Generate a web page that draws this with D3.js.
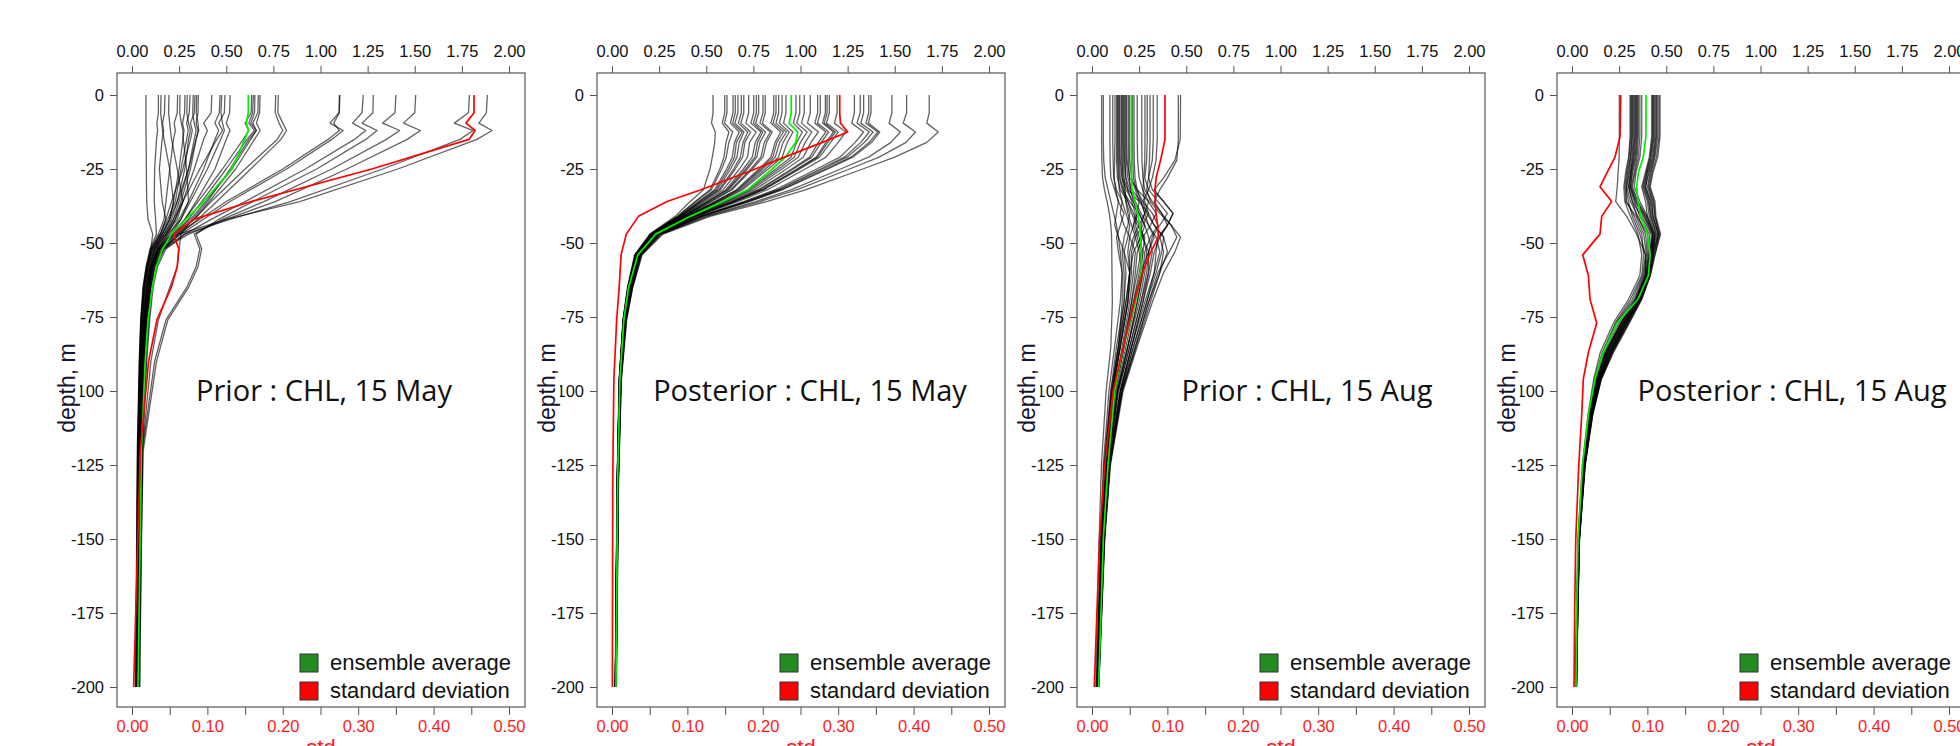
<!DOCTYPE html>
<html>
<head>
<meta charset="utf-8">
<script src="https://cdn.jsdelivr.net/npm/d3@7"></script>
<style>
  body { margin: 0; background: #fff; }
  svg { display: block; }
  text { font-family: "Liberation Sans", Arial, sans-serif; }
</style>
</head>
<body>
<div id="chart"></div>
<script>
// labels and ticks
const titles = ["Prior : CHL, 15 May", "Posterior : CHL, 15 May", "Prior : CHL, 15 Aug", "Posterior : CHL, 15 Aug"];
const meanTicks = [0, 0.25, 0.5, 0.75, 1, 1.25, 1.5, 1.75, 2];
const stdTicks = [0, 0.1, 0.2, 0.3, 0.4, 0.5];
const stdMinorTicks = [0.05, 0.15, 0.25, 0.35, 0.45];
const depthTicks = [0, -25, -50, -75, -100, -125, -150, -175, -200];
const legendLabels = ["ensemble average", "standard deviation"];

// panel 1 : prior, 15 May
const depth1 = [0, 6, 9.5, 12, 15, 25, 36, 42, 47, 52, 58, 65, 76, 90, 120, 200];
const members1 = [
  [0.074,0.074,0.074,0.074,0.075,0.076,0.078,0.085,0.11,0.1,0.08,0.062,0.048,0.04,0.03,0.02],
  [0.14,0.14,0.132,0.136,0.13,0.12,0.118,0.125,0.13,0.095,0.075,0.058,0.046,0.038,0.028,0.019],
  [0.154,0.152,0.158,0.162,0.17,0.2,0.22,0.2,0.16,0.12,0.1,0.085,0.07,0.058,0.042,0.03],
  [0.175,0.172,0.162,0.168,0.16,0.145,0.16,0.18,0.15,0.105,0.08,0.064,0.05,0.042,0.031,0.022],
  [0.196,0.194,0.2,0.204,0.21,0.24,0.27,0.24,0.18,0.13,0.105,0.09,0.075,0.062,0.045,0.033],
  [0.242,0.24,0.224,0.23,0.22,0.2,0.18,0.17,0.14,0.1,0.075,0.06,0.047,0.04,0.03,0.021],
  [0.255,0.253,0.262,0.27,0.272,0.29,0.3,0.26,0.19,0.14,0.11,0.095,0.08,0.066,0.048,0.035],
  [0.281,0.279,0.268,0.276,0.27,0.25,0.22,0.2,0.16,0.11,0.085,0.07,0.056,0.047,0.035,0.025],
  [0.293,0.291,0.3,0.31,0.3,0.28,0.24,0.21,0.17,0.12,0.09,0.075,0.06,0.05,0.037,0.027],
  [0.308,0.304,0.29,0.298,0.29,0.26,0.23,0.19,0.15,0.1,0.078,0.062,0.05,0.042,0.032,0.022],
  [0.325,0.322,0.33,0.34,0.33,0.3,0.25,0.22,0.18,0.125,0.095,0.08,0.065,0.054,0.04,0.029],
  [0.334,0.331,0.31,0.32,0.31,0.27,0.21,0.18,0.15,0.105,0.08,0.065,0.052,0.044,0.033,0.024],
  [0.343,0.341,0.35,0.354,0.34,0.31,0.26,0.23,0.19,0.135,0.1,0.085,0.07,0.058,0.043,0.031],
  [0.352,0.35,0.34,0.35,0.34,0.3,0.24,0.2,0.16,0.11,0.082,0.066,0.053,0.045,0.034,0.024],
  [0.423,0.42,0.38,0.4,0.38,0.33,0.27,0.23,0.18,0.12,0.09,0.074,0.06,0.05,0.037,0.027],
  [0.467,0.463,0.44,0.46,0.44,0.38,0.3,0.25,0.2,0.14,0.105,0.088,0.072,0.06,0.044,0.032],
  [0.476,0.472,0.48,0.49,0.47,0.4,0.31,0.26,0.21,0.15,0.115,0.098,0.082,0.068,0.05,0.036],
  [0.493,0.49,0.46,0.48,0.45,0.36,0.27,0.22,0.17,0.115,0.085,0.068,0.055,0.046,0.034,0.025],
  [0.52,0.518,0.5,0.52,0.5,0.44,0.34,0.28,0.22,0.15,0.11,0.092,0.076,0.063,0.046,0.033],
  [0.635,0.632,0.6,0.62,0.59,0.48,0.35,0.28,0.21,0.13,0.095,0.078,0.063,0.052,0.038,0.027],
  [0.644,0.64,0.62,0.65,0.61,0.5,0.37,0.3,0.22,0.14,0.1,0.082,0.066,0.055,0.04,0.029],
  [0.652,0.65,0.63,0.66,0.62,0.52,0.4,0.32,0.26,0.25,0.24,0.2,0.14,0.1,0.055,0.03],
  [0.67,0.668,0.64,0.66,0.63,0.53,0.39,0.31,0.22,0.145,0.105,0.086,0.07,0.058,0.042,0.03],
  [0.679,0.677,0.66,0.68,0.65,0.55,0.41,0.33,0.24,0.16,0.12,0.1,0.085,0.07,0.05,0.036],
  [0.762,0.76,0.78,0.8,0.77,0.6,0.42,0.33,0.23,0.14,0.1,0.082,0.066,0.055,0.04,0.029],
  [0.776,0.774,0.8,0.82,0.79,0.63,0.45,0.35,0.25,0.17,0.13,0.108,0.09,0.075,0.054,0.04],
  [1.1,1.098,1.05,1.12,1.06,0.82,0.52,0.38,0.26,0.15,0.11,0.09,0.074,0.061,0.045,0.032],
  [1.103,1.1,1.07,1.1,1.04,0.8,0.5,0.36,0.24,0.14,0.1,0.08,0.064,0.053,0.039,0.028],
  [1.227,1.22,1.17,1.24,1.18,0.92,0.6,0.42,0.28,0.18,0.135,0.112,0.094,0.078,0.056,0.041],
  [1.28,1.278,1.22,1.3,1.24,0.98,0.64,0.46,0.34,0.37,0.35,0.3,0.19,0.13,0.06,0.033],
  [1.4,1.395,1.33,1.42,1.35,1.06,0.7,0.48,0.33,0.36,0.34,0.29,0.18,0.12,0.055,0.032],
  [1.505,1.5,1.44,1.53,1.46,1.14,0.76,0.5,0.3,0.17,0.12,0.1,0.082,0.068,0.049,0.035],
  [1.79,1.785,1.71,1.81,1.74,1.33,0.84,0.52,0.28,0.16,0.11,0.09,0.072,0.06,0.044,0.032],
  [1.885,1.88,1.84,1.91,1.83,1.41,0.89,0.5,0.25,0.17,0.12,0.098,0.08,0.066,0.048,0.034]
];
const mean1 = [0.617,0.617,0.607,0.617,0.598,0.53,0.38,0.285,0.21,0.162,0.13,0.108,0.085,0.07,0.05,0.032];
const std1 = [0.4536,0.4536,0.443,0.455,0.447,0.318,0.158,0.082,0.055,0.062,0.06,0.052,0.033,0.022,0.011,0.0022];

// panel 2 : posterior, 15 May
const depth2 = [0, 6, 9.5, 12.5, 16, 21, 25, 32, 36, 41, 47, 54, 65, 76, 96, 130, 200];
const members2 = [
  [0.536,0.536,0.528,0.548,0.545,0.532,0.52,0.485,0.415,0.335,0.2,0.12,0.082,0.058,0.038,0.027,0.017],
  [0.598,0.598,0.585,0.62,0.605,0.594,0.572,0.52,0.441,0.347,0.205,0.123,0.084,0.059,0.039,0.028,0.017],
  [0.61,0.61,0.597,0.64,0.62,0.606,0.582,0.527,0.446,0.349,0.205,0.123,0.084,0.06,0.039,0.028,0.018],
  [0.642,0.642,0.628,0.675,0.65,0.638,0.608,0.544,0.459,0.355,0.208,0.124,0.085,0.06,0.039,0.028,0.018],
  [0.654,0.654,0.64,0.69,0.66,0.65,0.618,0.551,0.464,0.357,0.209,0.125,0.086,0.06,0.039,0.028,0.018],
  [0.668,0.668,0.652,0.7,0.675,0.663,0.629,0.559,0.47,0.36,0.209,0.125,0.086,0.061,0.04,0.028,0.018],
  [0.686,0.686,0.67,0.72,0.695,0.681,0.645,0.569,0.477,0.363,0.211,0.126,0.087,0.061,0.04,0.028,0.018],
  [0.699,0.699,0.684,0.735,0.705,0.693,0.654,0.575,0.482,0.366,0.212,0.127,0.087,0.061,0.04,0.028,0.018],
  [0.725,0.725,0.71,0.765,0.73,0.719,0.676,0.59,0.493,0.371,0.214,0.128,0.088,0.062,0.04,0.029,0.018],
  [0.752,0.752,0.737,0.79,0.76,0.744,0.697,0.604,0.504,0.376,0.215,0.129,0.089,0.062,0.041,0.029,0.018],
  [0.766,0.766,0.75,0.8,0.772,0.758,0.709,0.612,0.509,0.378,0.216,0.129,0.089,0.063,0.041,0.029,0.018],
  [0.778,0.778,0.762,0.815,0.785,0.768,0.718,0.618,0.514,0.38,0.217,0.13,0.089,0.063,0.041,0.029,0.018],
  [0.801,0.801,0.785,0.84,0.808,0.79,0.736,0.63,0.523,0.384,0.219,0.131,0.09,0.063,0.041,0.029,0.019],
  [0.813,0.813,0.798,0.85,0.82,0.801,0.745,0.637,0.528,0.386,0.219,0.131,0.09,0.064,0.041,0.029,0.019],
  [0.858,0.858,0.843,0.895,0.865,0.843,0.78,0.66,0.545,0.394,0.222,0.133,0.092,0.064,0.042,0.03,0.019],
  [0.87,0.87,0.855,0.91,0.875,0.853,0.789,0.666,0.549,0.396,0.223,0.133,0.092,0.065,0.042,0.03,0.019],
  [0.884,0.884,0.87,0.925,0.89,0.866,0.799,0.673,0.555,0.399,0.224,0.134,0.092,0.065,0.042,0.03,0.019],
  [0.902,0.902,0.888,0.94,0.908,0.883,0.814,0.683,0.562,0.402,0.225,0.134,0.093,0.065,0.042,0.03,0.019],
  [0.923,0.923,0.91,0.96,0.93,0.902,0.829,0.693,0.57,0.406,0.227,0.135,0.093,0.066,0.043,0.03,0.019],
  [0.976,0.976,0.962,1.01,0.98,0.949,0.869,0.72,0.59,0.415,0.23,0.137,0.095,0.067,0.043,0.03,0.02],
  [0.996,0.996,0.98,1.035,1.0,0.967,0.884,0.73,0.597,0.418,0.231,0.138,0.095,0.067,0.043,0.031,0.02],
  [1.02,1.02,1.005,1.06,1.025,0.988,0.901,0.742,0.606,0.422,0.233,0.139,0.096,0.067,0.044,0.031,0.02],
  [1.052,1.052,1.037,1.095,1.055,1.015,0.925,0.757,0.617,0.427,0.235,0.14,0.097,0.068,0.044,0.031,0.02],
  [1.091,1.091,1.076,1.135,1.095,1.049,0.953,0.776,0.631,0.434,0.237,0.141,0.098,0.069,0.044,0.031,0.02],
  [1.105,1.105,1.09,1.15,1.11,1.06,0.962,0.783,0.636,0.436,0.238,0.142,0.098,0.069,0.045,0.031,0.02],
  [1.132,1.132,1.117,1.175,1.135,1.084,0.982,0.796,0.646,0.44,0.24,0.143,0.099,0.069,0.045,0.032,0.02],
  [1.141,1.141,1.126,1.185,1.145,1.09,0.987,0.8,0.649,0.442,0.24,0.143,0.099,0.07,0.045,0.032,0.02],
  [1.153,1.153,1.138,1.2,1.16,1.101,0.996,0.805,0.653,0.444,0.241,0.144,0.1,0.07,0.045,0.032,0.021],
  [1.194,1.194,1.18,1.24,1.2,1.135,1.025,0.825,0.667,0.45,0.244,0.145,0.101,0.07,0.045,0.032,0.021],
  [1.286,1.286,1.272,1.335,1.29,1.209,1.086,0.866,0.698,0.464,0.249,0.148,0.103,0.072,0.046,0.033,0.021],
  [1.317,1.317,1.3,1.365,1.32,1.233,1.106,0.88,0.708,0.469,0.251,0.149,0.104,0.072,0.047,0.033,0.021],
  [1.335,1.335,1.32,1.385,1.34,1.247,1.119,0.888,0.714,0.472,0.252,0.15,0.104,0.073,0.047,0.033,0.021],
  [1.362,1.362,1.347,1.41,1.365,1.268,1.136,0.899,0.723,0.476,0.253,0.15,0.105,0.073,0.047,0.033,0.022],
  [1.374,1.374,1.36,1.42,1.378,1.277,1.144,0.905,0.727,0.477,0.254,0.151,0.105,0.073,0.047,0.033,0.022],
  [1.485,1.485,1.47,1.53,1.48,1.361,1.213,0.952,0.762,0.493,0.26,0.154,0.108,0.075,0.048,0.034,0.022],
  [1.563,1.563,1.545,1.61,1.56,1.417,1.26,0.983,0.785,0.504,0.264,0.157,0.109,0.076,0.049,0.034,0.022],
  [1.683,1.683,1.67,1.731,1.67,1.5,1.33,1.03,0.82,0.52,0.27,0.16,0.11,0.078,0.05,0.035,0.023]
];
const mean2 = [0.951,0.951,0.94,0.985,0.975,0.92,0.85,0.72,0.59,0.415,0.232,0.137,0.088,0.063,0.042,0.03,0.021];
const std2 = [0.302,0.302,0.303,0.3126,0.279,0.229,0.19,0.118,0.073,0.035,0.019,0.012,0.0095,0.0062,0.0025,0.001,0.0005];

// panel 3 : prior, 15 Aug
const depth3 = [0, 15, 22, 28, 32, 36, 40, 44, 48, 53, 60, 70, 85, 100, 125, 150, 200];
const members3 = [
  [0.051,0.051,0.052,0.056,0.066,0.08,0.092,0.1,0.104,0.105,0.106,0.108,0.1,0.075,0.05,0.038,0.02],
  [0.06,0.06,0.062,0.07,0.085,0.1,0.115,0.13,0.14,0.15,0.16,0.15,0.12,0.09,0.06,0.045,0.025],
  [0.095,0.095,0.096,0.1,0.12,0.14,0.13,0.12,0.14,0.17,0.2,0.19,0.15,0.11,0.07,0.05,0.028],
  [0.11,0.11,0.112,0.115,0.13,0.16,0.18,0.2,0.19,0.17,0.18,0.17,0.13,0.1,0.065,0.048,0.026],
  [0.122,0.122,0.12,0.118,0.125,0.14,0.17,0.15,0.13,0.14,0.16,0.16,0.14,0.105,0.07,0.05,0.027],
  [0.131,0.131,0.13,0.135,0.15,0.19,0.22,0.25,0.22,0.2,0.2,0.18,0.145,0.11,0.072,0.052,0.028],
  [0.135,0.135,0.136,0.14,0.145,0.16,0.15,0.17,0.2,0.23,0.22,0.2,0.16,0.12,0.078,0.055,0.03],
  [0.14,0.14,0.14,0.145,0.16,0.2,0.25,0.28,0.26,0.22,0.2,0.18,0.14,0.105,0.068,0.05,0.027],
  [0.145,0.145,0.146,0.15,0.165,0.18,0.2,0.19,0.17,0.16,0.17,0.17,0.14,0.1,0.065,0.048,0.026],
  [0.149,0.149,0.15,0.16,0.18,0.22,0.24,0.22,0.24,0.26,0.24,0.21,0.17,0.125,0.08,0.056,0.03],
  [0.157,0.157,0.158,0.16,0.17,0.19,0.21,0.24,0.28,0.27,0.25,0.22,0.17,0.12,0.076,0.054,0.029],
  [0.16,0.16,0.16,0.165,0.19,0.25,0.3,0.27,0.23,0.21,0.21,0.19,0.15,0.11,0.07,0.05,0.027],
  [0.166,0.166,0.168,0.17,0.175,0.18,0.19,0.21,0.23,0.25,0.27,0.24,0.19,0.135,0.085,0.06,0.032],
  [0.17,0.17,0.172,0.18,0.2,0.23,0.26,0.3,0.33,0.3,0.26,0.22,0.17,0.12,0.075,0.054,0.029],
  [0.175,0.175,0.176,0.178,0.19,0.21,0.23,0.22,0.2,0.19,0.2,0.19,0.15,0.11,0.07,0.05,0.027],
  [0.18,0.18,0.182,0.19,0.21,0.26,0.28,0.26,0.27,0.29,0.28,0.25,0.19,0.135,0.085,0.06,0.032],
  [0.184,0.184,0.186,0.2,0.24,0.3,0.34,0.31,0.27,0.24,0.23,0.21,0.165,0.12,0.075,0.053,0.028],
  [0.193,0.193,0.194,0.198,0.205,0.22,0.25,0.28,0.3,0.32,0.3,0.26,0.2,0.14,0.088,0.062,0.033],
  [0.2,0.2,0.2,0.21,0.23,0.25,0.24,0.23,0.25,0.27,0.26,0.23,0.18,0.13,0.08,0.057,0.03],
  [0.215,0.215,0.216,0.22,0.235,0.27,0.32,0.35,0.31,0.28,0.27,0.24,0.19,0.135,0.085,0.06,0.032],
  [0.223,0.223,0.224,0.228,0.24,0.26,0.28,0.3,0.34,0.36,0.33,0.28,0.21,0.15,0.092,0.064,0.034],
  [0.24,0.24,0.242,0.25,0.27,0.3,0.28,0.25,0.27,0.3,0.29,0.26,0.2,0.14,0.088,0.062,0.033],
  [0.264,0.264,0.265,0.27,0.28,0.32,0.37,0.4,0.36,0.33,0.31,0.27,0.21,0.15,0.09,0.063,0.033],
  [0.281,0.281,0.28,0.275,0.27,0.28,0.3,0.33,0.38,0.4,0.36,0.3,0.23,0.16,0.095,0.066,0.035],
  [0.293,0.293,0.29,0.28,0.3,0.35,0.4,0.36,0.32,0.3,0.3,0.27,0.21,0.15,0.09,0.063,0.034],
  [0.308,0.308,0.305,0.3,0.32,0.38,0.43,0.4,0.35,0.34,0.33,0.29,0.22,0.155,0.092,0.064,0.034],
  [0.325,0.325,0.32,0.3,0.29,0.31,0.36,0.42,0.45,0.41,0.35,0.3,0.23,0.16,0.095,0.066,0.035],
  [0.346,0.346,0.34,0.32,0.3,0.27,0.29,0.33,0.38,0.37,0.34,0.29,0.22,0.155,0.092,0.064,0.034],
  [0.458,0.458,0.45,0.4,0.36,0.33,0.37,0.42,0.47,0.44,0.38,0.32,0.24,0.165,0.098,0.068,0.036],
  [0.47,0.468,0.44,0.38,0.33,0.38,0.43,0.4,0.36,0.38,0.36,0.31,0.235,0.16,0.095,0.066,0.035]
];
const mean3 = [0.21,0.21,0.21,0.21,0.212,0.228,0.242,0.253,0.258,0.262,0.262,0.23,0.166,0.12,0.085,0.06,0.035];
const std3 = [0.0968,0.0968,0.091,0.085,0.0836,0.084,0.0849,0.087,0.088,0.078,0.067,0.056,0.0415,0.028,0.017,0.01,0.003];

// panel 4 : posterior, 15 Aug
const depth4 = [0, 14, 21, 26, 31, 36, 41, 47, 54, 61, 69, 77, 87, 96, 108, 125, 150, 175, 200];
const members4 = [
  [0.251,0.251,0.25,0.245,0.24,0.232,0.29,0.343,0.39,0.39,0.34,0.26,0.18,0.13,0.094,0.06,0.035,0.027,0.021],
  [0.308,0.308,0.3,0.285,0.275,0.28,0.31,0.35,0.37,0.36,0.3,0.22,0.15,0.115,0.085,0.055,0.032,0.024,0.018],
  [0.312,0.312,0.304,0.29,0.28,0.29,0.33,0.37,0.38,0.37,0.31,0.23,0.16,0.12,0.088,0.057,0.033,0.025,0.019],
  [0.317,0.317,0.31,0.295,0.285,0.3,0.32,0.36,0.39,0.375,0.32,0.235,0.165,0.122,0.09,0.058,0.034,0.026,0.02],
  [0.32,0.32,0.312,0.3,0.29,0.285,0.34,0.38,0.395,0.38,0.33,0.24,0.17,0.125,0.09,0.058,0.034,0.026,0.02],
  [0.325,0.325,0.318,0.305,0.29,0.31,0.35,0.39,0.4,0.385,0.335,0.25,0.175,0.13,0.093,0.06,0.035,0.027,0.021],
  [0.33,0.33,0.322,0.31,0.3,0.32,0.345,0.4,0.405,0.39,0.34,0.26,0.18,0.133,0.095,0.06,0.035,0.027,0.021],
  [0.334,0.334,0.326,0.312,0.305,0.33,0.36,0.41,0.41,0.395,0.345,0.265,0.185,0.136,0.097,0.062,0.036,0.028,0.022],
  [0.338,0.338,0.33,0.315,0.3,0.32,0.37,0.42,0.415,0.4,0.35,0.27,0.19,0.14,0.1,0.064,0.037,0.028,0.022],
  [0.343,0.343,0.335,0.318,0.31,0.335,0.38,0.425,0.42,0.4,0.35,0.275,0.195,0.143,0.102,0.065,0.037,0.029,0.022],
  [0.347,0.347,0.34,0.322,0.31,0.34,0.385,0.43,0.42,0.405,0.355,0.28,0.2,0.146,0.104,0.066,0.038,0.029,0.023],
  [0.352,0.352,0.345,0.33,0.315,0.345,0.39,0.43,0.425,0.41,0.36,0.285,0.205,0.15,0.106,0.067,0.038,0.03,0.023],
  [0.36,0.36,0.352,0.335,0.32,0.35,0.395,0.435,0.425,0.41,0.36,0.29,0.21,0.152,0.108,0.068,0.039,0.03,0.023],
  [0.37,0.37,0.36,0.34,0.33,0.36,0.4,0.44,0.43,0.415,0.365,0.3,0.215,0.155,0.11,0.07,0.04,0.031,0.024],
  [0.423,0.423,0.41,0.39,0.37,0.39,0.4,0.43,0.41,0.39,0.34,0.26,0.18,0.13,0.094,0.06,0.035,0.027,0.021],
  [0.427,0.427,0.414,0.394,0.375,0.4,0.41,0.44,0.415,0.395,0.345,0.27,0.185,0.135,0.096,0.062,0.036,0.028,0.022],
  [0.431,0.431,0.418,0.398,0.38,0.405,0.42,0.445,0.42,0.4,0.35,0.275,0.19,0.138,0.098,0.063,0.036,0.028,0.022],
  [0.435,0.435,0.422,0.4,0.385,0.41,0.415,0.45,0.42,0.4,0.35,0.28,0.195,0.14,0.1,0.064,0.037,0.028,0.022],
  [0.44,0.44,0.428,0.405,0.39,0.415,0.425,0.455,0.425,0.405,0.355,0.285,0.2,0.143,0.102,0.065,0.037,0.029,0.022],
  [0.445,0.445,0.432,0.41,0.39,0.42,0.43,0.46,0.43,0.405,0.36,0.29,0.205,0.146,0.104,0.066,0.038,0.029,0.023],
  [0.449,0.449,0.436,0.415,0.4,0.425,0.43,0.458,0.43,0.41,0.36,0.29,0.205,0.148,0.105,0.067,0.038,0.029,0.023],
  [0.455,0.455,0.44,0.42,0.405,0.43,0.44,0.462,0.435,0.41,0.365,0.295,0.21,0.15,0.106,0.068,0.039,0.03,0.023],
  [0.462,0.462,0.448,0.425,0.41,0.435,0.44,0.466,0.44,0.415,0.37,0.3,0.215,0.153,0.108,0.069,0.039,0.03,0.024],
  [0.467,0.467,0.455,0.43,0.415,0.44,0.445,0.47,0.44,0.415,0.37,0.305,0.22,0.156,0.11,0.07,0.04,0.031,0.024]
];
const mean4 = [0.393,0.392,0.378,0.353,0.343,0.35,0.365,0.4,0.415,0.405,0.35,0.24,0.165,0.122,0.087,0.056,0.032,0.025,0.021];
const std4 = [0.0646,0.0637,0.057,0.047,0.0371,0.0526,0.0394,0.0371,0.0142,0.0217,0.0239,0.0328,0.0217,0.015,0.0129,0.009,0.005,0.0035,0.0027];

const panels = [
  { depth: depth1, members: members1, mean: mean1, std: std1 },
  { depth: depth2, members: members2, mean: mean2, std: std2 },
  { depth: depth3, members: members3, mean: mean3, std: std3 },
  { depth: depth4, members: members4, mean: mean4, std: std4 }
];

// layout
const W = 1960, H = 746;
const panelStep = 480;
const titleShift = [3, 9, 26, 31];

const svg = d3.select("#chart").append("svg")
  .attr("width", W)
  .attr("height", H);

panels.forEach((p, i) => {
  const ox = i * panelStep;
  const left = 117 + ox, right = 525 + ox, top = 73, bottom = 707;

  const x = d3.scaleLinear().domain([0, 2]).range([132 + ox, 509 + ox]);
  const xs = d3.scaleLinear().domain([0, 0.5]).range([132 + ox, 509 + ox]);
  const y = d3.scaleLinear().domain([0, -200]).range([95, 687]);

  const g = svg.append("g");

  // top axis (ensemble values)
  g.append("g")
    .attr("transform", "translate(0," + top + ")")
    .call(d3.axisTop(x).tickValues(meanTicks).tickSize(7).tickPadding(9)
      .tickFormat(d3.format(".2f")))
    .call(a => a.select(".domain").remove());

  // bottom axis (std)
  g.append("g")
    .attr("class", "std-axis")
    .attr("transform", "translate(0," + bottom + ")")
    .call(d3.axisBottom(xs).tickValues(stdTicks.concat(stdMinorTicks)).tickSize(8).tickPadding(5)
      .tickFormat(d => stdTicks.includes(d) ? d3.format(".2f")(d) : ""))
    .call(a => a.select(".domain").remove());

  // depth axis
  g.append("g")
    .attr("transform", "translate(" + left + ",0)")
    .call(d3.axisLeft(y).tickValues(depthTicks).tickSize(7).tickPadding(6)
      .tickFormat(d => String(d)))
    .call(a => a.select(".domain").remove());

  g.selectAll(".tick line").attr("stroke", "#555").attr("stroke-width", 1);
  g.selectAll(".tick text")
    .style("font-family", '"Liberation Sans", Arial, sans-serif')
    .style("font-size", "16.5px")
    .attr("fill", "#111");
  g.selectAll(".std-axis .tick text").attr("fill", "#ff1a1a");

  // frame
  g.append("rect")
    .attr("x", left).attr("y", top)
    .attr("width", right - left).attr("height", bottom - top)
    .attr("fill", "none")
    .attr("stroke", "#555")
    .attr("stroke-width", 1.2);

  const plot = g.append("g");

  const meanLine = d3.line()
    .x(d => x(d[0]))
    .y(d => y(-d[1]));
  const stdLine = d3.line()
    .x(d => xs(d[0]))
    .y(d => y(-d[1]));

  plot.selectAll("path.member")
    .data(p.members)
    .enter()
    .append("path")
    .attr("class", "member")
    .attr("d", m => meanLine(m.map((v, k) => [v, p.depth[k]])))
    .attr("fill", "none")
    .attr("stroke", "rgba(0,0,0,0.62)")
    .attr("stroke-width", 1.3)
    .attr("stroke-linejoin", "round");

  plot.append("path")
    .attr("d", meanLine(p.mean.map((v, k) => [v, p.depth[k]])))
    .attr("fill", "none")
    .attr("stroke", "#00ee00")
    .attr("stroke-width", 1.7)
    .attr("stroke-linejoin", "round");

  plot.append("path")
    .attr("d", stdLine(p.std.map((v, k) => [v, p.depth[k]])))
    .attr("fill", "none")
    .attr("stroke", "#ff0000")
    .attr("stroke-width", 1.7)
    .attr("stroke-linejoin", "round");

  // title
  g.append("text")
    .attr("x", (left + right) / 2 + titleShift[i])
    .attr("y", 401)
    .attr("text-anchor", "middle")
    .style("font-family", '"Open Sans", "Noto Sans", sans-serif')
    .style("font-size", "29px")
    .attr("fill", "#111")
    .text(titles[i]);

  // legend
  const legendColors = ["#228b22", "#ff0000"];
  legendLabels.forEach((lab, k) => {
    g.append("rect")
      .attr("x", left + 183).attr("y", 654 + k * 28)
      .attr("width", 18).attr("height", 18)
      .attr("fill", legendColors[k])
      .attr("stroke", "#333")
      .attr("stroke-width", 1);
    g.append("text")
      .attr("x", left + 213).attr("y", 670 + k * 28)
      .style("font-size", "22px")
      .attr("fill", "#111")
      .text(lab);
  });

  // axis titles
  g.append("text")
    .attr("x", (left + right) / 2)
    .attr("y", 755)
    .attr("text-anchor", "middle")
    .style("font-size", "22px")
    .attr("fill", "#ff1a1a")
    .text("std");

  const yl = g.append("g")
    .attr("transform", "translate(" + (left - 50) + "," + 388 + ") rotate(-90)");
  const ylText = yl.append("text")
    .attr("text-anchor", "middle")
    .attr("dy", "0.35em")
    .style("font-size", "23px")
    .attr("fill", "#141432")
    .text("depth, m");
  const bb = ylText.node().getBBox();
  yl.insert("rect", "text")
    .attr("x", bb.x - 1).attr("y", bb.y)
    .attr("width", bb.width + 2).attr("height", bb.height)
    .attr("fill", "#fff");
});
</script>
</body>
</html>
